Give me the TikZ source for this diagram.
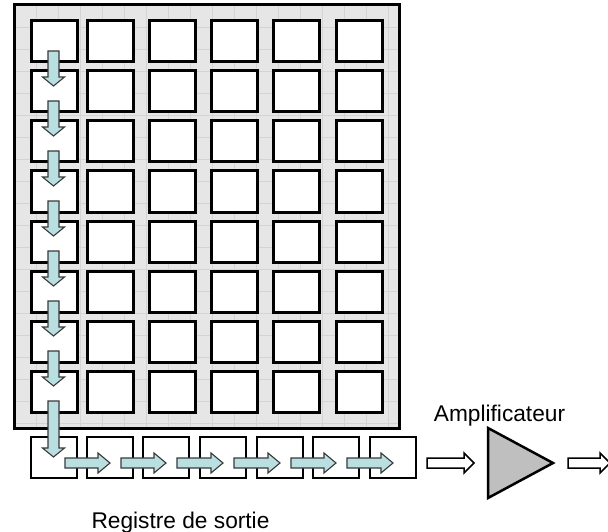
\documentclass[tikz,border=0pt]{standalone}
\usepackage{fontspec}
\setmainfont{Liberation Sans}
\definecolor{bgfill}{HTML}{E6E6E6}
\definecolor{gridc}{HTML}{D4D4D4}
\definecolor{arrcyan}{HTML}{B9DFE1}
\definecolor{arredge}{HTML}{3A3A3A}
\newcommand{\vblock}[2]{%
  \draw[cyanarrow] (48,{#1}) -- (48,{#2-9}) -- (42.5,{#2-9}) -- (53.5,{#2}) -- (64.5,{#2-9}) -- (59,{#2-9}) -- (59,{#1}) -- cycle;}
\newcommand{\hblock}[2]{%
  \draw[cyanarrow] ({#1},458) -- ({#2-12},458) -- ({#2-12},453) -- ({#2},463) -- ({#2-12},473) -- ({#2-12},468) -- ({#1},468) -- cycle;}
\begin{document}
\begin{tikzpicture}[x=1pt,y=-1pt,
  cell/.style={draw=black, line width=3pt, fill=white, minimum width=46pt, minimum height=41pt, inner sep=0pt, outer sep=0pt},
  regcell/.style={cell, line width=2.5pt},
  cyanarrow/.style={draw=arredge, line width=1.1pt, fill=arrcyan, line join=miter},
  whitearrow/.style={draw=black, line width=1.5pt, fill=white, line join=miter},
  lbl/.style={font=\fontsize{22.7}{24}\selectfont, inner sep=0pt, anchor=base}]
\clip (0,0) rectangle (608,532);
\fill[white] (0,0) rectangle (608,532);
% sensor background
\fill[bgfill] (14,5) rectangle (399,428);
\begin{scope}
  \clip (14,5) rectangle (399,428);
  \foreach \gx in {0,...,18} \draw[gridc, line width=0.8pt] ({14+22*\gx},5) -- ({14+22*\gx},428);
  \foreach \gy in {0,...,19} \draw[gridc, line width=0.8pt] (14,{5+22*\gy}) -- (399,{5+22*\gy});
\end{scope}
\draw[line width=3pt] (14,5) rectangle (399,428);
% pixel cells
\foreach \c/\x in {1/31,2/87,3/149,4/211,5/273,6/336}
  \foreach \r in {1,...,8}
    \node[cell] (c\r-\c) at ({\x+23},{41.5+50*(\r-1)}) {};
% output register
\foreach \i/\x in {1/31,2/87,3/143,4/200,5/257,6/313,7/370}
  \node[regcell] (r\i) at ({\x+23},457.5) {};
% vertical transfer arrows
\foreach \k in {1,...,7} \vblock{51+50*(\k-1)}{86+50*(\k-1)};
\vblock{401}{457}
% horizontal register arrows
\foreach \s/\e in {65/110,121/166,177/223,234/280,291/336,347/393} \hblock{\s}{\e};
% white arrows
\draw[whitearrow] (427,458) -- (464,458) -- (464,453) -- (474,463) -- (464,473) -- (464,468) -- (427,468) -- cycle;
\draw[whitearrow] (568,458) -- (600,458) -- (600,453) -- (610,463) -- (600,473) -- (600,468) -- (568,468) -- cycle;
% amplifier
\draw[line width=2.5pt, fill=gray!50, line join=miter] (488,428) -- (553,463) -- (488,498) -- cycle;
\node[lbl] (amp) at (499.5,421.5) {Amplificateur};
\node[lbl] (reg) at (180.5,528) {Registre de sortie};
\end{tikzpicture}
\end{document}
